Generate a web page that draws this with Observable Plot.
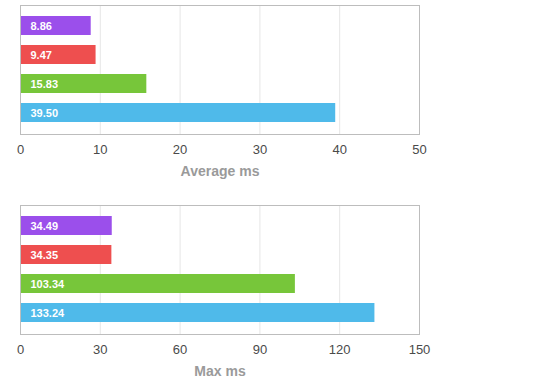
<!DOCTYPE html>
<html><head><meta charset="utf-8">
<script src="https://cdn.jsdelivr.net/npm/d3@7"></script>
<script src="https://cdn.jsdelivr.net/npm/@observablehq/plot@0.6"></script>
<style>body{margin:0;background:#fff;} svg{display:block}</style>
</head><body><div id="chart"></div>
<script>
const categories = ["Series A", "Series B", "Series C", "Series D"];
const colors = ["#9B4FEB", "#EE4F4F", "#77C63A", "#4FBAEA"];
const averageMs = [8.86, 9.47, 15.83, 39.50];
const maxMs = [34.49, 34.35, 103.34, 133.24];
const averageTicks = [0, 10, 20, 30, 40, 50];
const maxTicks = [0, 30, 60, 90, 120, 150];

const FONT = "'Liberation Sans', Arial, Helvetica, sans-serif";

function makeChart(values, ticks, label, marginTop, marginBottom) {
  const data = categories.map((c, i) => ({cat: c, value: values[i], color: colors[i]}));
  return Plot.plot({
    width: 560,
    height: 195,
    marginLeft: 20,
    marginRight: 141,
    marginTop,
    marginBottom,
    style: {fontFamily: FONT, background: "white"},
    x: {domain: [0, ticks[ticks.length - 1]], axis: null},
    y: {domain: categories, axis: null, padding: 1 / 3},
    color: {type: "identity"},
    marks: [
      Plot.gridX(ticks.slice(1, -1), {stroke: "#e6e6e6", strokeOpacity: 1}),
      Plot.barX(data, {x: "value", y: "cat", fill: "color"}),
      Plot.text(data, {x: 0, y: "cat", text: d => d.value.toFixed(2), textAnchor: "start", dx: 10, fill: "white", fontWeight: "bold", fontSize: 11}),
      Plot.frame({stroke: "#bdbdbd"}),
      Plot.axisX(ticks, {tickSize: 0, tickPadding: 10, fontSize: 13, fill: "#4a4a4a", label: null, tickFormat: d => String(d)}),
      Plot.text([label], {text: d => d, frameAnchor: "bottom", dy: 41, fontSize: 14, fontWeight: "bold", fill: "#9a9a9a"})
    ]
  });
}

const root = document.getElementById("chart");
root.appendChild(makeChart(averageMs, averageTicks, "Average ms", 5, 61));
root.appendChild(makeChart(maxMs, maxTicks, "Max ms", 10, 56));
</script>
</body></html>
